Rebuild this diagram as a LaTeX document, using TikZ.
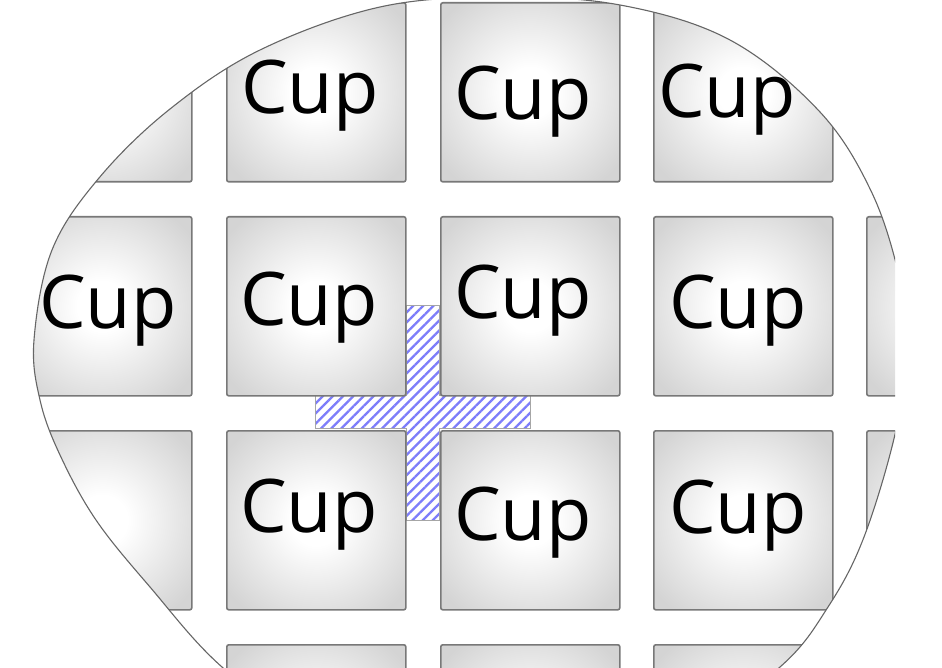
\documentclass[tikz,border=0pt]{standalone}
\usepackage{fontspec}
\setmainfont{Open Sans}
\usetikzlibrary{patterns.meta}
\pgfdeclareradialshading{cupshade}{\pgfpoint{0bp}{0bp}}{color(0bp)=(white); color(7bp)=(white); color(32bp)=(black!17); color(50bp)=(black!17)}
\definecolor{edgegray}{RGB}{120,120,120}
\definecolor{hatchblue}{RGB}{125,125,250}
\tikzset{
  cupbox/.style={draw=edgegray, line width=1.6pt, rounded corners=2pt, shading=cupshade, minimum width=179pt, minimum height=179pt, inner sep=0pt, anchor=north west},
  cuptext/.style={font=\fontsize{74}{80}\selectfont, inner sep=0pt, anchor=base, text=black},
  crossbar/.style={draw=black!35, line width=0.6pt, pattern={Lines[angle=45,distance=7.2pt,line width=2.3pt]}, pattern color=hatchblue},
  rim/.style={draw=black!60, line width=1.1pt}
}
\def\blobpts{(34,340) (52,250) (99,178) (170,109) (260,50) (380,7) (500,-3) (620,5) (730,40) (820,112) (872,193) (900,280) (907,345) (896,430) (864,537) (828,607) (780,667) (680,737) (500,772) (320,737) (222,667) (150,587) (96,520) (60,455) (40,400)}
\begin{document}
\begin{tikzpicture}[x=1pt,y=-1pt]
\useasboundingbox (0,0) rectangle (942,668);
\begin{scope}
\clip (0,0) rectangle (895,668);
\begin{scope}
\clip plot[smooth cycle, tension=0.6] coordinates {\blobpts};
\fill[white] (0,0) rectangle (942,668);
% hatched cross behind the cups
\path[crossbar] (406,305) -- (439,305) -- (439,395) -- (530,395) -- (530,428) -- (439,428) -- (439,520) -- (406,520) -- (406,428) -- (315,428) -- (315,395) -- (406,395) -- cycle;
% cups
\foreach \r/\y in {0/2,1/216,2/430,3/644}{
  \foreach \c/\x in {0/12,1/226,2/440,3/653,4/866}{
    \node[cupbox] (s-\r-\c) at (\x,\y) {};
  }
}
\node[cuptext] (t-0-1) at (310,114) {Cup};
\node[cuptext] (t-0-2) at (523,120) {Cup};
\node[cuptext] (t-0-3) at (727,118) {Cup};
\node[cuptext] (t-1-0) at (108,328) {Cup};
\node[cuptext] (t-1-1) at (309,325) {Cup};
\node[cuptext] (t-1-2) at (523,318) {Cup};
\node[cuptext] (t-1-3) at (738,328) {Cup};
\node[cuptext] (t-2-1) at (309,532) {Cup};
\node[cuptext] (t-2-2) at (523,540) {Cup};
\node[cuptext] (t-2-3) at (738,533) {Cup};
\end{scope}
\path[rim] plot[smooth cycle, tension=0.6] coordinates {\blobpts};
\end{scope}
\end{tikzpicture}
\end{document}
